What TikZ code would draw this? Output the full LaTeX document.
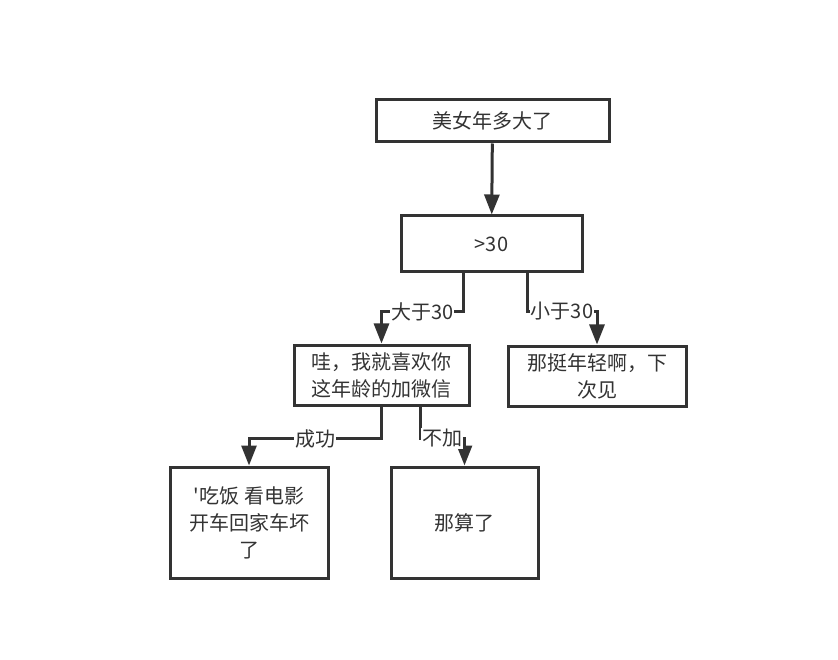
\documentclass[tikz,border=0pt]{standalone}
\usepackage{fontspec}
\setmainfont{Noto Sans CJK SC}
\usetikzlibrary{arrows.meta}
\definecolor{ink}{HTML}{333333}
\tikzset{
  box/.style={draw=ink, line width=3pt, fill=white, text=ink, align=center, inner sep=0pt, font=\fontsize{20}{27}\selectfont},
  conn/.style={draw=ink, line width=3pt, -{Triangle[length=20pt,width=15pt]}},
  lbl/.style={fill=white, text=ink, inner sep=1pt, font=\fontsize{20}{22}\selectfont}
}
\begin{document}
\begin{tikzpicture}[x=1pt,y=-1pt]
\useasboundingbox (0,0) rectangle (838,660);
\node[box, minimum width=233pt, minimum height=42pt] (A) at (492.5,121) {美女年多大了};
\node[box, minimum width=181pt, minimum height=56pt] (B) at (491.5,244) {>30};
\node[box, minimum width=175pt, minimum height=60pt] (C) at (381.5,375) {哇，我就喜欢你\\这年龄的加微信};
\node[box, minimum width=178pt, minimum height=60pt] (D) at (597,376) {那挺年轻啊，下\\次见};
\node[box, minimum width=158pt, minimum height=111pt] (E) at (249,522.5) {\textquotesingle 吃饭 看电影\\开车回家车坏\\了};
\node[box, minimum width=147pt, minimum height=111pt] (F) at (464.5,522.5) {那算了};
\draw[conn] (A) -- (B);
\draw[conn] ([xshift=-28.5pt]B.south) -- ++(0,38) -| (C.north) node[pos=0.25,lbl]{大于30};
\draw[conn] ([xshift=35.5pt]B.south) -- ++(0,38) -| (D.north) node[pos=0.25,lbl]{小于30};
\draw[conn] (C.south) -- ++(0,32) -| (E.north) node[pos=0.25,lbl]{成功};
\draw[conn] ([xshift=38.5pt]C.south) -- ++(0,32) -| (F.north) node[pos=0.25,lbl]{不加};
\end{tikzpicture}
\end{document}
